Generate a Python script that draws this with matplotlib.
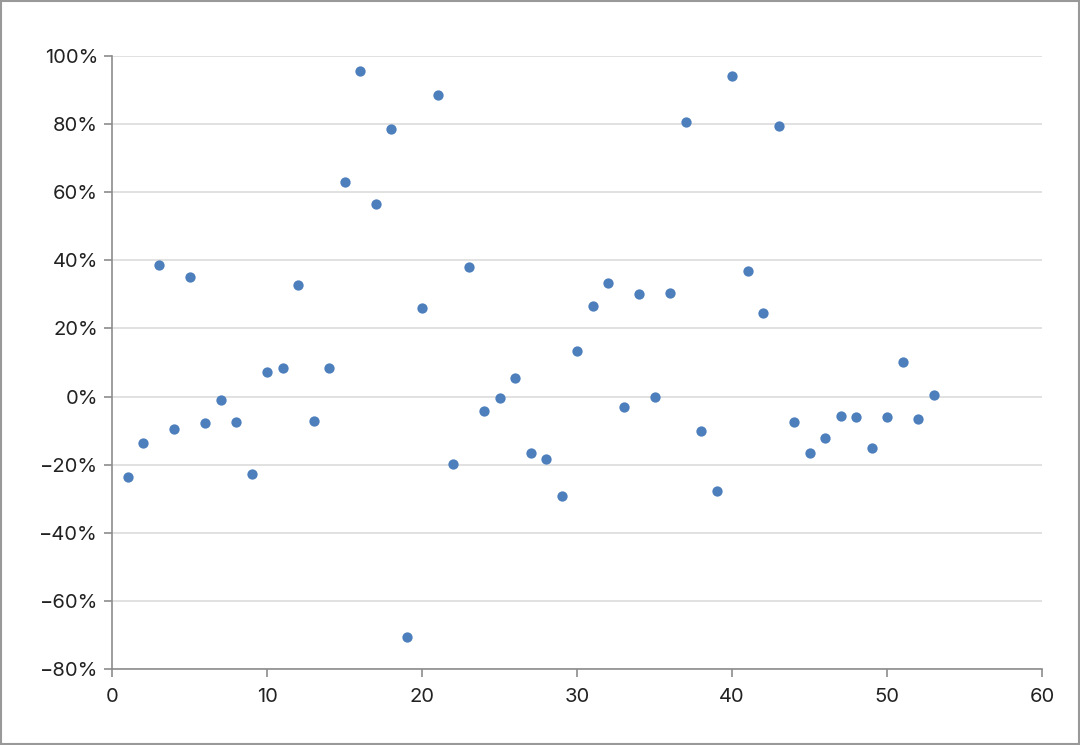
import matplotlib
matplotlib.use("Agg")
import matplotlib.pyplot as plt
from matplotlib.patches import Rectangle
from matplotlib.ticker import FuncFormatter

plt.rcParams['font.family'] = ['Inter', 'DejaVu Sans']

# data
x = list(range(1, 54))
y = [-23.6, -13.6, 38.6, -9.5, 35.1, -7.7, -1.0, -7.5, -22.7, 7.2,
     8.4, 32.8, -7.2, 8.4, 63.1, 95.6, 56.5, 78.5, -70.6, 26.0,
     88.5, -19.8, 38.0, -4.2, -0.4, 5.5, -16.6, -18.3, -29.2, 13.4,
     26.6, 33.4, -3.1, 30.1, -0.1, 30.4, 80.6, -10.1, -27.7, 94.1,
     36.9, 24.5, 79.4, -7.5, -16.6, -12.2, -5.7, -6.0, -15.1, -6.0,
     10.2, -6.6, 0.5]
yticks = [-80, -60, -40, -20, 0, 20, 40, 60, 80, 100]
xticks = [0, 10, 20, 30, 40, 50, 60]

fig = plt.figure(figsize=(10.8, 7.45), dpi=100)
ax = fig.add_axes([112/1080, 1-669/745, 930/1080, 613/745])

ax.scatter(x, y, s=55, color='#4d7fbd', zorder=3, linewidths=0)

ax.set_xlim(0, 60)
ax.set_ylim(-80, 100)
ax.set_xticks(xticks)
ax.set_yticks(yticks)
ax.yaxis.set_major_formatter(FuncFormatter(lambda v, p: ('\u2212' if v < 0 else '') + '%d%%' % abs(v)))

ax.grid(axis='y', color='#dcdcdc', linewidth=1.2, zorder=0)
ax.grid(axis='x', visible=False)
for s in ['top', 'right']:
    ax.spines[s].set_visible(False)
for s in ['left', 'bottom']:
    ax.spines[s].set_color('#8c8c8c')
    ax.spines[s].set_linewidth(1.2)
ax.tick_params(colors='#8c8c8c', labelcolor='#222222', labelsize=14.5, length=6, width=1.2)
ax.tick_params(axis='y', pad=4)
ax.tick_params(axis='x', pad=8)

# outer border
fig.patches.append(Rectangle((0.001, 0.001), 0.998, 0.998, transform=fig.transFigure,
                             fill=False, edgecolor='#999999', linewidth=1.5))

fig.savefig('out.png', dpi=100)
